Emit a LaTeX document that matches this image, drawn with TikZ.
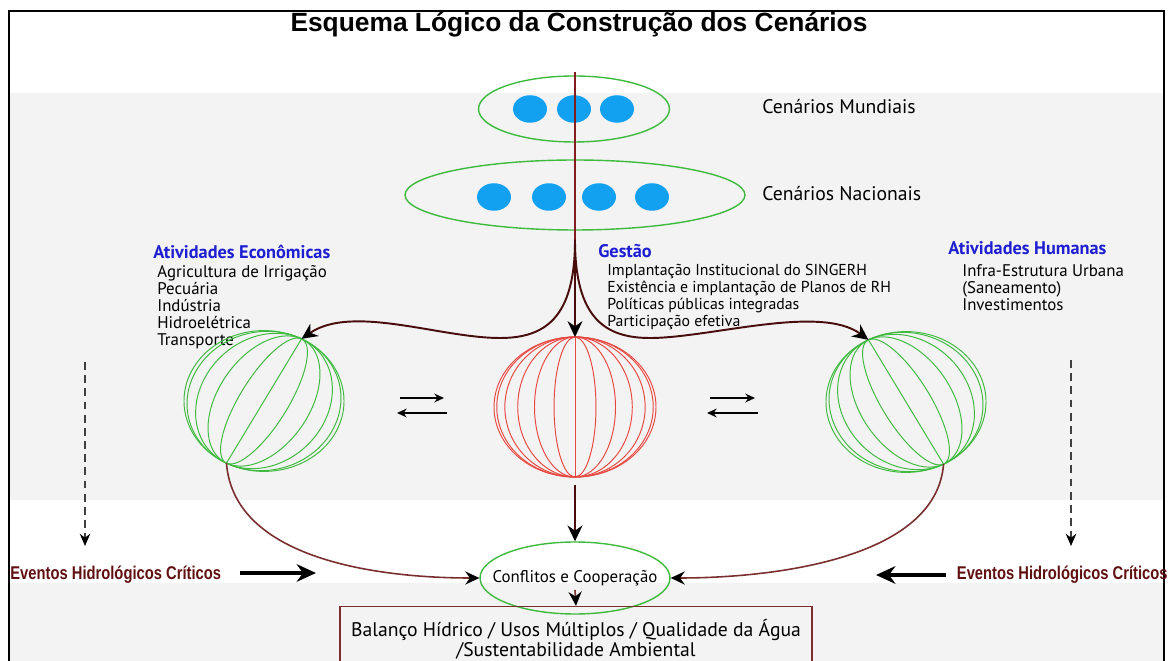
\documentclass[tikz,border=0pt]{standalone}
\usepackage{fontspec}
\setmainfont{PT Sans}
\newfontfamily\titlefont{Liberation Sans}
\newfontfamily\condfont{Liberation Sans}[FakeStretch=0.8]
\usetikzlibrary{arrows.meta,shapes.geometric}
\definecolor{scengreen}{RGB}{62,186,62}
\definecolor{dotblue}{RGB}{18,160,240}
\definecolor{headblue}{RGB}{30,30,210}
\definecolor{globered}{RGB}{232,72,64}
\definecolor{flowred}{RGB}{72,12,12}
\definecolor{linered}{RGB}{130,30,30}
\definecolor{curvered}{RGB}{122,46,46}
\definecolor{bandgrey}{RGB}{243,243,243}
\definecolor{eventred}{RGB}{96,16,16}
\tikzset{scenstyle/.style = {ellipse, draw=scengreen, line width=0.8pt, inner sep=0pt},
	dotstyle/.style = {ellipse, fill=dotblue, minimum width=0.68cm, minimum height=0.55cm, inner sep=0pt},
	labelstyle/.style = {anchor=west, inner sep=0pt, font=\fontsize{11.2}{13}\selectfont},
	headstyle/.style = {anchor=west, inner sep=0pt, text=headblue, font=\fontsize{10.4}{12}\selectfont\bfseries},
	liststyle/.style = {anchor=north west, align=left, inner sep=0pt, font=\fontsize{9.6}{9.64}\selectfont},
	eventstyle/.style = {inner sep=0pt, text=eventred, font=\condfont\bfseries\fontsize{10.5}{12}\selectfont},
	globe/.style = {line width=0.55pt},
	flow/.style = {-{Stealth[length=9pt, width=8.5pt, color=black]}, draw=flowred, line width=1.1pt},
	curve/.style = {-{Stealth[length=8pt, width=7.5pt, color=black]}, draw=curvered, line width=0.9pt},
	swap/.style = {-{Stealth[length=5.5pt, width=5pt]}, line width=1.1pt},
	heavy/.style = {-{Stealth[length=11pt, width=10pt]}, line width=1.9pt},
	extend/.style = {-{Stealth[length=7pt, width=6pt, color=black]}, draw=black!75, dashed, dash pattern=on 4.5pt off 3pt, line width=0.7pt}}

\begin{document}
\begin{tikzpicture}[x=0.02cm, y=-0.02cm]
 \useasboundingbox (0,0) rectangle (1169,661);
 \clip (0,0) rectangle (1169,661);

 % background bands and frame
 \fill[bandgrey] (10,93) rectangle (1163,500);
 \fill[bandgrey] (10,583) rectangle (1163,661);
 \draw[line width=1.4pt] (9,680) -- (9,11) -- (1164,11) -- (1164,680);

 \node (title) at (579,25) [font=\titlefont\bfseries\fontsize{15}{17}\selectfont] {Esquema Lógico da Construção dos Cenários};

 % scenarios
 \node (mundial) at (574,109) [scenstyle, minimum width=3.82cm, minimum height=1.32cm] {};
 \node (nacional) at (575,195) [scenstyle, minimum width=6.8cm, minimum height=1.4cm] {};
 \foreach \x [count=\i] in {530,574,617}
  \node (m\i) at (\x,109) [dotstyle] {};
 \foreach \x [count=\i] in {494,549,599,652}
  \node (n\i) at (\x,197) [dotstyle] {};
 \node (mundlabel) at (762,107) [labelstyle] {Cenários Mundiais};
 \node (naclabel) at (762,194) [labelstyle] {Cenários Nacionais};

 \coordinate (top) at (575,72);
 \coordinate (split) at (575,240);
 \draw[linered, line width=0.6pt] (top) -- (split);

 % activity lists
 \node (econ) at (153,252) [headstyle] {Atividades Econômicas};
 \node (econlist) at (157,265) [liststyle] {Agricultura de Irrigação\\Pecuária\\Indústria\\Hidroelétrica\\Transporte};
 \node (gestao) at (598,251) [headstyle] {Gestão};
 \node (gestlist) at (607,264) [liststyle, font=\fontsize{9}{9.64}\selectfont] {Implantação Institucional do SINGERH\\Existência e implantação de Planos de RH\\Políticas públicas integradas\\Participação efetiva};
 \node (humanas) at (948,248) [headstyle] {Atividades Humanas};
 \node (humlist) at (962,264) [liststyle] {Infra-Estrutura Urbana\\(Saneamento)\\Investimentos};

 % globes
 \begin{scope}[shift={(264,401)}, yscale=0.88, rotate=-28, draw=scengreen]
  \draw[globe] (0,0) circle [radius=80];
  \foreach \a in {18,36,54,72}
   \draw[globe] (0,0) ellipse [x radius={80*sin(\a)}, y radius=80];
  \draw[globe] (0,-80) -- (0,80);
  \coordinate (ltop) at (0,-80);
  \coordinate (lbot) at (0,80);
 \end{scope}
 \begin{scope}[shift={(575,407)}, draw=globered]
  \draw[globe] (0,0) ellipse [x radius=81, y radius=70];
  \foreach \a in {15,30,45,60,75}
   \draw[globe] (0,0) ellipse [x radius={81*sin(\a)}, y radius=70];
  \draw[globe] (0,-70) -- (0,70);
  \coordinate (ctop) at (0,-70);
  \coordinate (cbot) at (0,70);
 \end{scope}
 \begin{scope}[shift={(906,402)}, yscale=0.88, rotate=28, draw=scengreen]
  \draw[globe] (0,0) circle [radius=80];
  \foreach \a in {18,36,54,72}
   \draw[globe] (0,0) ellipse [x radius={80*sin(\a)}, y radius=80];
  \draw[globe] (0,-80) -- (0,80);
  \coordinate (rtop) at (0,-80);
  \coordinate (rbot) at (0,80);
 \end{scope}

 % flows from the national scenarios
 \draw[flow] (split) .. controls (575,318) and (545,338) .. (500,338) .. controls (440,338) and (352,304) .. (ltop);
 \draw[flow] (split) -- (ctop);
 \draw[flow] (split) .. controls (575,318) and (605,338) .. (650,338) .. controls (710,338) and (820,304) .. (rtop);

 % exchanges between the spheres
 \coordinate (la1) at (400,398); \coordinate (la2) at (444,398);
 \coordinate (lb1) at (447,413); \coordinate (lb2) at (397,413);
 \coordinate (ra1) at (710,398); \coordinate (ra2) at (755,398);
 \coordinate (rb1) at (758,413); \coordinate (rb2) at (707,413);
 \draw[swap] (la1) -- (la2);
 \draw[swap] (lb1) -- (lb2);
 \draw[swap] (ra1) -- (ra2);
 \draw[swap] (rb1) -- (rb2);

 % conflicts and results
 \node (conflito) at (575,578) [scenstyle, minimum width=3.8cm, minimum height=1.44cm, font=\fontsize{9.6}{11}\selectfont] {\makebox[0pt]{Conflitos e Cooperação}};
 \node (balanco) at (576,639) [draw=curvered, line width=0.8pt, minimum width=9.44cm, minimum height=1.3cm, align=center, font=\fontsize{11.2}{10.2}\selectfont] {Balanço Hídrico / Usos Múltiplos / Qualidade da Água\\/Sustentabilidade Ambiental};

 \draw[curve] (lbot) .. controls (234,560) and (380,578) .. (conflito.west);
 \draw[curve] (rbot) .. controls (936,560) and (770,578) .. (conflito.east);
 \draw[flow, shorten <=0.16cm] (cbot) -- (conflito.north);
 \draw[curve] ([yshift=-0.24cm]conflito.center) -- (balanco.north);

 % critical hydrological events
 \coordinate (dl1) at (85,362); \coordinate (dl2) at (85,546);
 \coordinate (dr1) at (1071,360); \coordinate (dr2) at (1071,546);
 \draw[extend] (dl1) -- (dl2);
 \draw[extend] (dr1) -- (dr2);
 \node (evleft) at (10,575) [eventstyle, anchor=west] {Eventos Hidrológicos Críticos};
 \node (evright) at (1168,575) [eventstyle, anchor=east] {Eventos Hidrológicos Críticos};
 \coordinate (evlend) at (316,573);
 \coordinate (evrend) at (876,575);
 \draw[heavy] (240,573) -- (evlend);
 \draw[heavy] (946,575) -- (evrend);

\end{tikzpicture}
\end{document}
